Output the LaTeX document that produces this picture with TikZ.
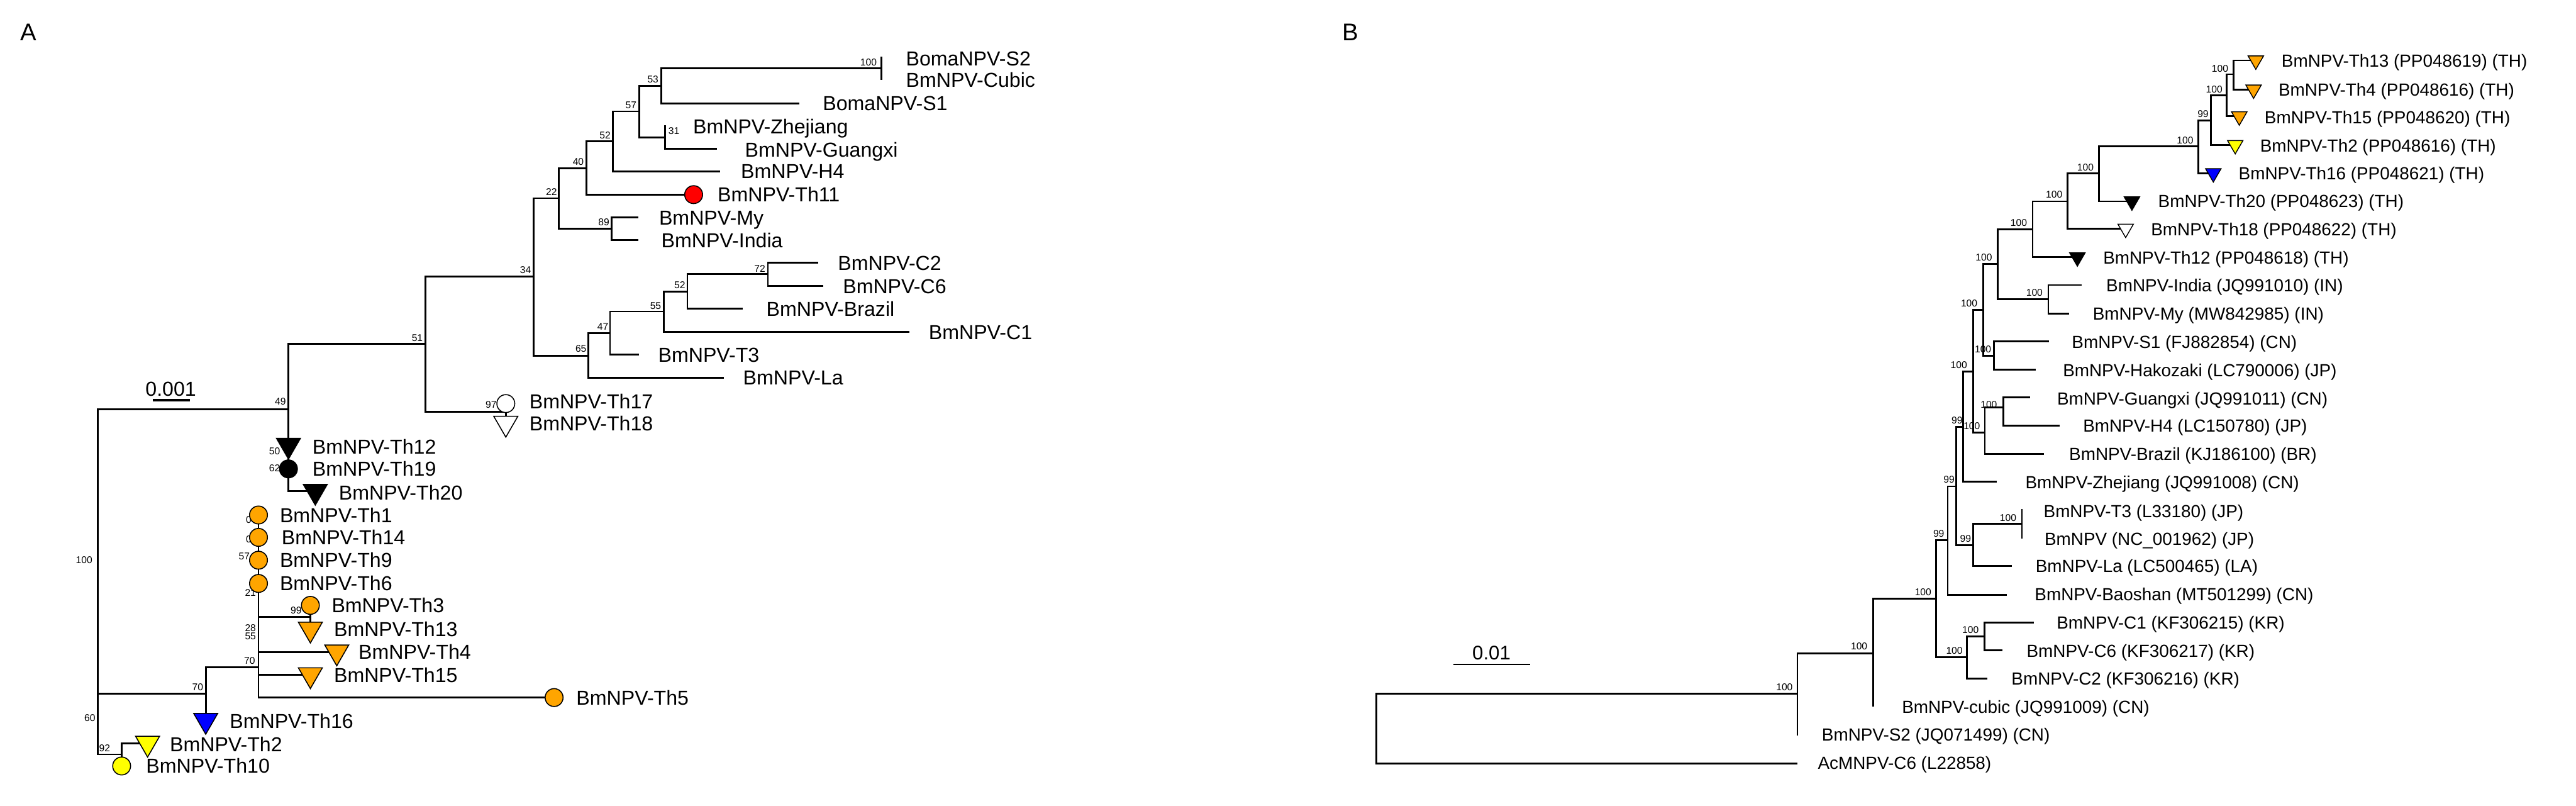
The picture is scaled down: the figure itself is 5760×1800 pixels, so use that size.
\documentclass[tikz,border=0pt]{standalone}
\usepackage{fontspec}
\setmainfont{Liberation Sans}
\usetikzlibrary{shapes.geometric}
\definecolor{mkorange}{RGB}{255,165,0}
\definecolor{mkyellow}{RGB}{255,255,0}
\definecolor{mkblue}{RGB}{0,0,255}
\definecolor{mkred}{RGB}{255,0,0}
\begin{document}
\begin{tikzpicture}[x=0.25pt,y=-0.25pt,
  br/.style={line width=1pt},
  sbar/.style={line width=1.4pt},
  bs/.style={font=\fontsize{5.5}{6}\selectfont, inner sep=0pt},
  lblA/.style={anchor=base west, inner sep=0pt, yshift=-4.05pt, font=\fontsize{11.3}{13}\selectfont},
  lblB/.style={anchor=base west, inner sep=0pt, yshift=-3.5pt, font=\fontsize{9.8}{12}\selectfont},
  panel/.style={inner sep=0pt, font=\fontsize{13.5}{15}\selectfont},
  dotA/.style={circle, draw, line width=0.55pt, minimum size=10pt, inner sep=0pt},
  triA/.style={regular polygon, regular polygon sides=3, shape border rotate=180, draw, line width=0.55pt, minimum size=15.5pt, inner sep=0pt},
  triB/.style={regular polygon, regular polygon sides=3, shape border rotate=180, draw, line width=0.5pt, minimum size=10pt, inner sep=0pt}]
\useasboundingbox (0,0) rectangle (5760,1800);

% ---------------- panel letters ----------------
\node[panel] (pA) at (64,72) {A};
\node[panel] (pB) at (3019,72) {B};

% ================= TREE A =================
% internal nodes
\coordinate (rA) at (219,1300);
\coordinate (n49) at (645,915);
\coordinate (n51) at (951,769);
\coordinate (n97) at (1131,920);
\coordinate (n34) at (1193,618);
\coordinate (n22) at (1250,443);
\coordinate (n40) at (1311,376);
\coordinate (n52u) at (1370,316);
\coordinate (n57) at (1429,249);
\coordinate (n53) at (1479,192);
\coordinate (n100t) at (1971,153);
\coordinate (n31) at (1487,307);
\coordinate (n89) at (1368,511);
\coordinate (n65) at (1316,795);
\coordinate (n47) at (1364,745);
\coordinate (n55) at (1484,696);
\coordinate (n52l) at (1537,652);
\coordinate (n72) at (1717,613);
\coordinate (n70lo) at (460,1550);
\coordinate (n70up) at (578,1491);
\coordinate (n99) at (694,1379);
\coordinate (n92) at (272,1686);
% tips
\coordinate (aS2) at (1971,127);
\coordinate (aCubic) at (1971,179);
\coordinate (aS1) at (1788,231);
\coordinate (aZhe) at (1487,280);
\coordinate (aGx) at (1603,332);
\coordinate (aH4) at (1610,383);
\coordinate (aTh11) at (1551,435);
\coordinate (aMy) at (1427,486);
\coordinate (aIndia) at (1427,537);
\coordinate (aC2) at (1829,587);
\coordinate (aC6) at (1841,639);
\coordinate (aBrazil) at (1661,690);
\coordinate (aC1) at (2033,742);
\coordinate (aT3) at (1429,793);
\coordinate (aLa) at (1619,844);
\coordinate (aTh17) at (1131,902);
\coordinate (aTh18) at (1131,946);
\coordinate (aTh12) at (645,995);
\coordinate (aTh19) at (645,1048);
\coordinate (aTh20) at (705,1098);
\coordinate (aTh1) at (578,1151);
\coordinate (aTh14) at (578,1201);
\coordinate (aTh9) at (578,1252);
\coordinate (aTh6) at (578,1304);
\coordinate (aTh3) at (694,1353);
\coordinate (aTh13) at (694,1406);
\coordinate (aTh4) at (753,1457);
\coordinate (aTh15) at (694,1508);
\coordinate (aTh5) at (1239,1559);
\coordinate (aTh16) at (460,1610);
\coordinate (aTh2) at (330,1661);
\coordinate (aTh10) at (272,1712);

% branches
\draw[br] (rA) |- (n49);
\draw[br] (rA) |- (n70lo);
\draw[br] (rA) |- (n92);
\draw[br] (n49) |- (n51);
\draw[br] (n49) |- (aTh20);
\draw[br] (n51) |- (n34);
\draw[br] (n51) |- (n97);
\draw[br] (n97) -- (aTh17);
\draw[br] (n97) -- (aTh18);
\draw[br] (n34) |- (n22);
\draw[br] (n34) |- (n65);
\draw[br] (n22) |- (n40);
\draw[br] (n22) |- (n89);
\draw[br] (n40) |- (n52u);
\draw[br] (n40) |- (aTh11);
\draw[br] (n52u) |- (n57);
\draw[br] (n52u) |- (aH4);
\draw[br] (n57) |- (n53);
\draw[br] (n57) |- (n31);
\draw[br] (n53) |- (n100t);
\draw[br] (n53) |- (aS1);
\draw[br] (n100t) -- (aS2);
\draw[br] (n100t) -- (aCubic);
\draw[br] (n31) -- (aZhe);
\draw[br] (n31) |- (aGx);
\draw[br] (n89) |- (aMy);
\draw[br] (n89) |- (aIndia);
\draw[br] (n65) |- (n47);
\draw[br] (n65) |- (aLa);
\draw[br] (n47) |- (n55);
\draw[br] (n47) |- (aT3);
\draw[br] (n55) |- (n52l);
\draw[br] (n55) |- (aC1);
\draw[br] (n52l) |- (n72);
\draw[br] (n52l) |- (aBrazil);
\draw[br] (n72) |- (aC2);
\draw[br] (n72) |- (aC6);
\draw[br] (n70lo) |- (n70up);
\draw[br] (n70lo) -- (aTh16);
\draw[br] (n70up) -- (aTh1);
\draw[br] (n70up) |- (aTh5);
\draw[br] (n70up) |- (n99);
\draw[br] (n70up) |- (aTh4);
\draw[br] (n70up) |- (aTh15);
\draw[br] (n99) -- (aTh3);
\draw[br] (n99) -- (aTh13);
\draw[br] (n92) |- (aTh2);
\draw[br] (n92) -- (aTh10);

% bootstrap values A
\node[bs] (bA1) at (188,1252) {100};
\node[bs] (bA2) at (201,1605) {60};
\node[bs] (bA3) at (234,1672) {92};
\node[bs] (bA4) at (627,897) {49};
\node[bs] (bA5) at (933,756) {51};
\node[bs] (bA6) at (1175,604) {34};
\node[bs] (bA7) at (1233,429) {22};
\node[bs] (bA8) at (1293,362) {40};
\node[bs] (bA9) at (1353,302) {52};
\node[bs] (bA10) at (1411,235) {57};
\node[bs] (bA11) at (1460,178) {53};
\node[bs] (bA12) at (1942,139) {100};
\node[bs] (bA13) at (1507,293) {31};
\node[bs] (bA14) at (1350,497) {89};
\node[bs] (bA15) at (1299,779) {65};
\node[bs] (bA16) at (1348,730) {47};
\node[bs] (bA17) at (1466,683) {55};
\node[bs] (bA18) at (1520,637) {52};
\node[bs] (bA19) at (1699,600) {72};
\node[bs] (bA20) at (1098,905) {97};
\node[bs] (bA21) at (614,1008) {50};
\node[bs] (bA22) at (614,1046) {62};
\node[bs] (bA23) at (556,1161) {0};
\node[bs] (bA24) at (556,1205) {0};
\node[bs] (bA25) at (546,1244) {57};
\node[bs] (bA26) at (560,1325) {21};
\node[bs] (bA27) at (662,1364) {99};
\node[bs] (bA28) at (560,1404) {28};
\node[bs] (bA29) at (560,1422) {55};
\node[bs] (bA30) at (558,1476) {70};
\node[bs] (bA31) at (442,1536) {70};

% markers A
\node[dotA, fill=mkred] (mTh11) at (aTh11) {};
\node[dotA, fill=white] (mTh17) at (aTh17) {};
\node[triA, fill=white] (mTh18) at (aTh18) {};
\node[triA, fill=black] (mTh12) at (aTh12) {};
\node[dotA, fill=black] (mTh19) at (aTh19) {};
\node[triA, fill=black] (mTh20) at (aTh20) {};
\node[dotA, fill=mkorange] (mTh1) at (aTh1) {};
\node[dotA, fill=mkorange] (mTh14) at (aTh14) {};
\node[dotA, fill=mkorange] (mTh9) at (aTh9) {};
\node[dotA, fill=mkorange] (mTh6) at (aTh6) {};
\node[dotA, fill=mkorange] (mTh3) at (aTh3) {};
\node[triA, fill=mkorange] (mTh13) at (aTh13) {};
\node[triA, fill=mkorange] (mTh4) at (aTh4) {};
\node[triA, fill=mkorange] (mTh15) at (aTh15) {};
\node[dotA, fill=mkorange] (mTh5) at (aTh5) {};
\node[triA, fill=mkblue] (mTh16) at (aTh16) {};
\node[triA, fill=mkyellow] (mTh2) at (aTh2) {};
\node[dotA, fill=mkyellow] (mTh10) at (aTh10) {};

% labels A
\node[lblA] (LaS2) at (2025,131) {BomaNPV-S2};
\node[lblA] (LaCubic) at (2025,179) {BmNPV-Cubic};
\node[lblA] (LaS1) at (1839,231) {BomaNPV-S1};
\node[lblA] (LaZhe) at (1549,283) {BmNPV-Zhejiang};
\node[lblA] (LaGx) at (1665,334) {BmNPV-Guangxi};
\node[lblA] (LaH4) at (1656,383) {BmNPV-H4};
\node[lblA] (LaTh11) at (1604,435) {BmNPV-Th11};
\node[lblA] (LaMy) at (1473,486) {BmNPV-My};
\node[lblA] (LaIndia) at (1478,537) {BmNPV-India};
\node[lblA] (LaC2) at (1873,588) {BmNPV-C2};
\node[lblA] (LaC6) at (1884,640) {BmNPV-C6};
\node[lblA] (LaBrazil) at (1713,690) {BmNPV-Brazil};
\node[lblA] (LaC1) at (2076,742) {BmNPV-C1};
\node[lblA] (LaT3) at (1471,793) {BmNPV-T3};
\node[lblA] (LaLa) at (1661,844) {BmNPV-La};
\node[lblA] (LaTh17) at (1183,897) {BmNPV-Th17};
\node[lblA] (LaTh18) at (1183,946) {BmNPV-Th18};
\node[lblA] (LaTh12) at (698,998) {BmNPV-Th12};
\node[lblA] (LaTh19) at (698,1048) {BmNPV-Th19};
\node[lblA] (LaTh20) at (757,1101) {BmNPV-Th20};
\node[lblA] (LaTh1) at (625,1151) {BmNPV-Th1};
\node[lblA] (LaTh14) at (629,1201) {BmNPV-Th14};
\node[lblA] (LaTh9) at (625,1252) {BmNPV-Th9};
\node[lblA] (LaTh6) at (625,1304) {BmNPV-Th6};
\node[lblA] (LaTh3) at (741,1353) {BmNPV-Th3};
\node[lblA] (LaTh13) at (746,1406) {BmNPV-Th13};
\node[lblA] (LaTh4) at (801,1457) {BmNPV-Th4};
\node[lblA] (LaTh15) at (746,1509) {BmNPV-Th15};
\node[lblA] (LaTh5) at (1288,1559) {BmNPV-Th5};
\node[lblA] (LaTh16) at (513,1612) {BmNPV-Th16};
\node[lblA] (LaTh2) at (379,1663) {BmNPV-Th2};
\node[lblA] (LaTh10) at (326,1712) {BmNPV-Th10};

% scale bar A
\coordinate (sA1) at (342,894);
\coordinate (sA2) at (424,894);
\draw[sbar] (sA1) -- (sA2);
\node[inner sep=0pt, font=\fontsize{11.3}{13}\selectfont] (sAt) at (382,870) {0.001};

% ================= TREE B =================
\coordinate (rB) at (3077,1628);
\coordinate (nB1) at (4019,1550);
\coordinate (nB2) at (4188,1460);
\coordinate (nB3) at (4329,1338);
\coordinate (nC) at (4398,1469);
\coordinate (nC16) at (4437,1422);
\coordinate (nB4) at (4355,1207);
\coordinate (nB5) at (4374,1087);
\coordinate (nT) at (4412,1219);
\coordinate (nT3) at (4521,1171);
\coordinate (nB6) at (4389,954);
\coordinate (nB7) at (4412,830);
\coordinate (nG) at (4438,967);
\coordinate (nGH) at (4479,910);
\coordinate (nB8) at (4434,692);
\coordinate (nS) at (4459,795);
\coordinate (nB9) at (4467,590);
\coordinate (nIM) at (4580,669);
\coordinate (nB10) at (4545,513);
\coordinate (nB11) at (4623,450);
\coordinate (nB12) at (4693,388);
\coordinate (nB13) at (4916,327);
\coordinate (nB14) at (4944,269);
\coordinate (nB15) at (4979,213);
\coordinate (nB16) at (4994,166);
% tips
\coordinate (bAc) at (4019,1706);
\coordinate (bS2) at (4019,1644);
\coordinate (bCubic) at (4188,1579);
\coordinate (bC1) at (4548,1391);
\coordinate (bC6) at (4478,1453);
\coordinate (bC2) at (4444,1517);
\coordinate (bBao) at (4487,1329);
\coordinate (bT3) at (4521,1138);
\coordinate (bNC) at (4521,1204);
\coordinate (bLa) at (4498,1265);
\coordinate (bZhe) at (4465,1076);
\coordinate (bGx) at (4539,888);
\coordinate (bH4) at (4605,951);
\coordinate (bBrazil) at (4570,1014);
\coordinate (bS1) at (4581,763);
\coordinate (bHak) at (4552,826);
\coordinate (bIndia) at (4655,637);
\coordinate (bMy) at (4626,701);
\coordinate (bTh12) at (4645,575);
\coordinate (bTh18) at (4753,511);
\coordinate (bTh20) at (4767,450);
\coordinate (bTh16) at (4949,387);
\coordinate (bTh2) at (4998,324);
\coordinate (bTh15) at (5007,260);
\coordinate (bTh13) at (5044,135);
\coordinate (bTh4) at (5039,200);

\draw[br] (rB) |- (nB1);
\draw[br] (rB) |- (bAc);
\draw[br] (nB1) |- (nB2);
\draw[br] (nB1) -- (bS2);
\draw[br] (nB2) |- (nB3);
\draw[br] (nB2) -- (bCubic);
\draw[br] (nB3) |- (nB4);
\draw[br] (nB3) |- (nC);
\draw[br] (nC) |- (nC16);
\draw[br] (nC) |- (bC2);
\draw[br] (nC16) |- (bC1);
\draw[br] (nC16) |- (bC6);
\draw[br] (nB4) |- (nB5);
\draw[br] (nB4) |- (bBao);
\draw[br] (nB5) |- (nB6);
\draw[br] (nB5) |- (nT);
\draw[br] (nT) |- (nT3);
\draw[br] (nT) |- (bLa);
\draw[br] (nT3) -- (bT3);
\draw[br] (nT3) -- (bNC);
\draw[br] (nB6) |- (nB7);
\draw[br] (nB6) |- (bZhe);
\draw[br] (nB7) |- (nB8);
\draw[br] (nB7) |- (nG);
\draw[br] (nG) |- (nGH);
\draw[br] (nG) |- (bBrazil);
\draw[br] (nGH) |- (bGx);
\draw[br] (nGH) |- (bH4);
\draw[br] (nB8) |- (nB9);
\draw[br] (nB8) |- (nS);
\draw[br] (nS) |- (bS1);
\draw[br] (nS) |- (bHak);
\draw[br] (nB9) |- (nB10);
\draw[br] (nB9) |- (nIM);
\draw[br] (nIM) |- (bIndia);
\draw[br] (nIM) |- (bMy);
\draw[br] (nB10) |- (nB11);
\draw[br] (nB10) |- (bTh12);
\draw[br] (nB11) |- (nB12);
\draw[br] (nB11) |- (bTh18);
\draw[br] (nB12) |- (nB13);
\draw[br] (nB12) |- (bTh20);
\draw[br] (nB13) |- (nB14);
\draw[br] (nB13) |- (bTh16);
\draw[br] (nB14) |- (nB15);
\draw[br] (nB14) |- (bTh2);
\draw[br] (nB15) |- (nB16);
\draw[br] (nB15) |- (bTh15);
\draw[br] (nB16) |- (bTh13);
\draw[br] (nB16) |- (bTh4);

% bootstrap values B
\node[bs] (bB1) at (4964,153) {100};
\node[bs] (bB2) at (4951,200) {100};
\node[bs] (bB3) at (4926,254) {99};
\node[bs] (bB4) at (4886,314) {100};
\node[bs] (bB5) at (4663,374) {100};
\node[bs] (bB6) at (4593,435) {100};
\node[bs] (bB7) at (4514,498) {100};
\node[bs] (bB8) at (4436,576) {100};
\node[bs] (bB9) at (4549,654) {100};
\node[bs] (bB10) at (4403,678) {100};
\node[bs] (bB11) at (4434,780) {100};
\node[bs] (bB12) at (4380,816) {100};
\node[bs] (bB13) at (4447,904) {100};
\node[bs] (bB14) at (4376,939) {99};
\node[bs] (bB15) at (4409,952) {100};
\node[bs] (bB16) at (4358,1072) {99};
\node[bs] (bB17) at (4335,1193) {99};
\node[bs] (bB18) at (4395,1204) {99};
\node[bs] (bB19) at (4490,1157) {100};
\node[bs] (bB20) at (4300,1324) {100};
\node[bs] (bB21) at (4370,1454) {100};
\node[bs] (bB22) at (4406,1408) {100};
\node[bs] (bB23) at (4157,1444) {100};
\node[bs] (bB24) at (3990,1536) {100};

% markers B
\node[triB, fill=mkorange] (mBTh13) at (bTh13) {};
\node[triB, fill=mkorange] (mBTh4) at (bTh4) {};
\node[triB, fill=mkorange] (mBTh15) at (bTh15) {};
\node[triB, fill=mkyellow] (mBTh2) at (bTh2) {};
\node[triB, fill=mkblue] (mBTh16) at (bTh16) {};
\node[triB, fill=black] (mBTh20) at (bTh20) {};
\node[triB, fill=white] (mBTh18) at (bTh18) {};
\node[triB, fill=black] (mBTh12) at (bTh12) {};

% labels B
\node[lblB] (LbTh13) at (5101,136) {BmNPV-Th13 (PP048619) (TH)};
\node[lblB] (LbTh4) at (5094,200) {BmNPV-Th4 (PP048616) (TH)};
\node[lblB] (LbTh15) at (5063,262) {BmNPV-Th15 (PP048620) (TH)};
\node[lblB] (LbTh2) at (5053,325) {BmNPV-Th2 (PP048616) (TH)};
\node[lblB] (LbTh16) at (5005,388) {BmNPV-Th16 (PP048621) (TH)};
\node[lblB] (LbTh20) at (4825,450) {BmNPV-Th20 (PP048623) (TH)};
\node[lblB] (LbTh18) at (4809,513) {BmNPV-Th18 (PP048622) (TH)};
\node[lblB] (LbTh12) at (4702,576) {BmNPV-Th12 (PP048618) (TH)};
\node[lblB] (LbIndia) at (4709,638) {BmNPV-India (JQ991010) (IN)};
\node[lblB] (LbMy) at (4679,701) {BmNPV-My (MW842985) (IN)};
\node[lblB] (LbS1) at (4632,765) {BmNPV-S1 (FJ882854) (CN)};
\node[lblB] (LbHak) at (4612,828) {BmNPV-Hakozaki (LC790006) (JP)};
\node[lblB] (LbGx) at (4599,891) {BmNPV-Guangxi (JQ991011) (CN)};
\node[lblB] (LbH4) at (4657,952) {BmNPV-H4 (LC150780) (JP)};
\node[lblB] (LbBrazil) at (4626,1015) {BmNPV-Brazil (KJ186100) (BR)};
\node[lblB] (LbZhe) at (4528,1078) {BmNPV-Zhejiang (JQ991008) (CN)};
\node[lblB] (LbT3) at (4569,1142) {BmNPV-T3 (L33180) (JP)};
\node[lblB] (LbNC) at (4571,1205) {BmNPV (NC\_001962) (JP)};
\node[lblB] (LbLa) at (4551,1265) {BmNPV-La (LC500465) (LA)};
\node[lblB] (LbBao) at (4549,1328) {BmNPV-Baoshan (MT501299) (CN)};
\node[lblB] (LbC1) at (4598,1392) {BmNPV-C1 (KF306215) (KR)};
\node[lblB] (LbC6) at (4531,1455) {BmNPV-C6 (KF306217) (KR)};
\node[lblB] (LbC2) at (4497,1517) {BmNPV-C2 (KF306216) (KR)};
\node[lblB] (LbCubic) at (4252,1580) {BmNPV-cubic (JQ991009) (CN)};
\node[lblB] (LbS2) at (4073,1642) {BmNPV-S2 (JQ071499) (CN)};
\node[lblB] (LbAc) at (4064,1705) {AcMNPV-C6 (L22858)};

% scale bar B
\coordinate (sB1) at (3250,1485);
\coordinate (sB2) at (3422,1485);
\draw[line width=0.9pt] (sB1) -- (sB2);
\node[inner sep=0pt, font=\fontsize{11}{13}\selectfont] (sBt) at (3335,1459) {0.01};
\end{tikzpicture}
\end{document}
